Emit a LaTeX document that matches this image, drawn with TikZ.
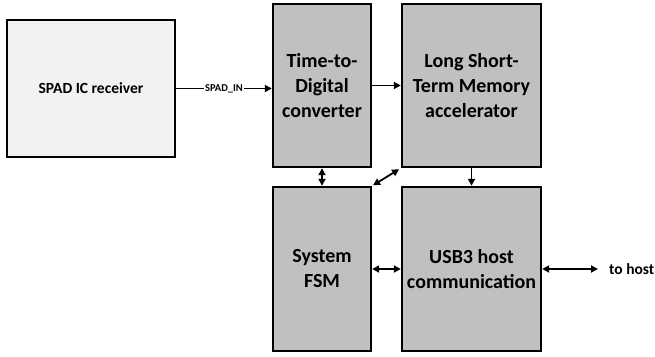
\documentclass[tikz,border=0pt]{standalone}
\usepackage{fontspec}
\setmainfont{Carlito}
\usetikzlibrary{arrows.meta}
\definecolor{boxgray}{RGB}{192,192,192}
\definecolor{lightbox}{RGB}{242,242,242}
\begin{document}
\begin{tikzpicture}[x=1pt,y=-1pt,
  blk/.style={draw=black, line width=2.4pt, fill=boxgray, align=center, font=\bfseries\fontsize{20}{25}\selectfont, inner sep=0pt},
  conn/.style={line width=1.8pt, -{Triangle[length=7pt,width=7pt]}},
  biconn/.style={line width=1.8pt, {Triangle[length=7pt,width=7pt]}-{Triangle[length=7pt,width=7pt]}}]
\useasboundingbox (0,0) rectangle (655,356);
\node[blk, fill=lightbox, minimum width=168pt, minimum height=137pt, font=\bfseries\fontsize{15.5}{18}\selectfont] (spad) at (91,88.5) {SPAD IC receiver};
\node[blk, minimum width=98pt, minimum height=163pt] (tdc) at (322,85.5) {Time-to-\\Digital\\converter};
\node[blk, minimum width=139pt, minimum height=163pt] (lstm) at (471.5,85.5) {Long Short-\\Term Memory\\accelerator};
\node[blk, minimum width=98pt, minimum height=164pt] (fsm) at (322,269) {System\\FSM};
\node[blk, minimum width=139pt, minimum height=164pt] (usb) at (471.5,269) {USB3 host\\communication};
\coordinate (hostend) at (598,269);
\node[anchor=west, font=\bfseries\fontsize{15.5}{18}\selectfont, inner sep=0pt] (host) at (609,269) {to host};
\draw[conn] (spad.east) -- node[fill=white, inner sep=1pt, font=\bfseries\fontsize{10.5}{12}\selectfont] (lbl) {SPAD\_IN} (tdc.west |- spad.east);
\draw[conn] (tdc.east) -- (lstm.west |- tdc.east);
\draw[biconn] (tdc.south) -- (fsm.north);
\draw[biconn, shorten >=1pt, shorten <=2pt] (lstm.south west) -- (fsm.north east);
\draw[conn] (lstm.south) -- (usb.north);
\draw[biconn] (fsm.east) -- (usb.west);
\draw[biconn] (usb.east) -- (hostend);
\end{tikzpicture}
\end{document}
